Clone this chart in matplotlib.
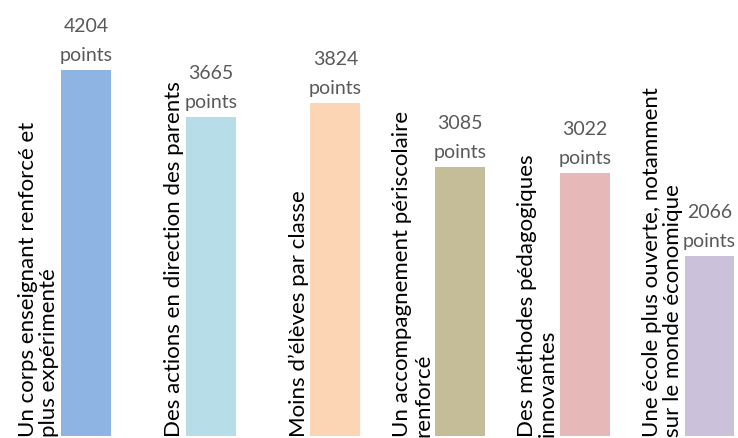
import matplotlib.pyplot as plt

labels = [
    "Un corps enseignant renforcé et\nplus expérimenté",
    "Des actions en direction des parents",
    "Moins d\u2019élèves par classe",
    "Un accompagnement périscolaire\nrenforcé",
    "Des méthodes pédagogiques\ninnovantes",
    "Une école plus ouverte, notamment\nsur le monde économique",
]
points = [4204, 3665, 3824, 3085, 3022, 2066]
colors = ["#8EB4E3", "#B7DEE8", "#FCD5B5", "#C4BD97", "#E6B9B8", "#CCC1DA"]

plt.rcParams["font.family"] = ["Lato", "DejaVu Sans"]

fig = plt.figure(figsize=(7.38, 4.39), dpi=100)
ax = fig.add_axes([0, 2 / 439, 1, 437 / 439])

x = list(range(len(points)))
ax.bar(x, points, width=0.40, color=colors)

for i, (lab, v) in enumerate(zip(labels, points)):
    ax.text(i - 0.215, 0, lab, rotation=90, ha="right", va="bottom",
            multialignment="left", fontsize=16, color="black", linespacing=1.05)
    ax.annotate(f"{v}\npoints", (i, v), xytext=(0, 5), textcoords="offset points",
                ha="center", va="bottom", fontsize=14, color="#595959",
                linespacing=1.85)

ax.set_xlim(-0.69, 5.229)
ax.set_ylim(0, 5018)
ax.axis("off")

fig.savefig("out.png", dpi=100)
